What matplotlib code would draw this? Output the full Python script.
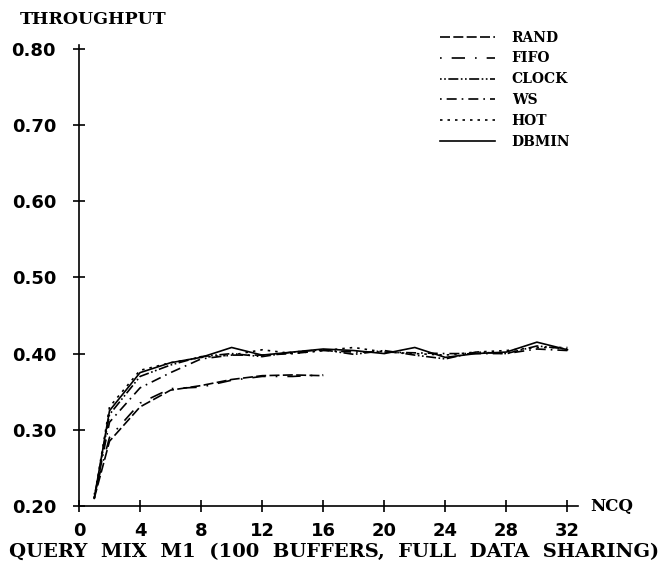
import matplotlib.pyplot as plt

# NCQ values (number of concurrent queries)
ncq = [1, 2, 4, 6, 8, 10, 12, 14, 16, 18, 20, 22, 24, 26, 28, 30, 32]
ncq_short = [1, 2, 4, 6, 8, 10, 12, 14, 16]

# Throughput
rand = [0.210, 0.285, 0.330, 0.352, 0.358, 0.366, 0.371, 0.372, 0.371]
fifo = [0.215, 0.290, 0.335, 0.354, 0.356, 0.365, 0.370, 0.370, 0.372]
clock = [0.210, 0.320, 0.370, 0.385, 0.396, 0.400, 0.396, 0.402, 0.405,
         0.399, 0.404, 0.398, 0.393, 0.402, 0.400, 0.410, 0.406]
ws = [0.210, 0.310, 0.355, 0.375, 0.393, 0.398, 0.398, 0.400, 0.404,
      0.402, 0.402, 0.401, 0.400, 0.400, 0.400, 0.406, 0.404]
hot = [0.210, 0.330, 0.378, 0.388, 0.395, 0.398, 0.405, 0.400, 0.404,
       0.408, 0.402, 0.400, 0.398, 0.402, 0.404, 0.408, 0.408]
dbmin = [0.210, 0.325, 0.375, 0.388, 0.395, 0.408, 0.398, 0.402, 0.406,
         0.404, 0.400, 0.408, 0.395, 0.400, 0.402, 0.415, 0.405]

xticks = [0, 4, 8, 12, 16, 20, 24, 28, 32]
yticks = [0.20, 0.30, 0.40, 0.50, 0.60, 0.70, 0.80]

serif = 'DejaVu Serif'
sans = 'DejaVu Sans'

fig = plt.figure(figsize=(6.62, 5.68), dpi=100)
ax = fig.add_axes([0.1193, 0.1092, 0.754, 0.8116])

lw = 1.2
ax.plot(ncq_short, rand, color='black', lw=lw, linestyle=(0, (6, 2)), label='RAND')
ax.plot(ncq_short, fifo, color='black', lw=lw, linestyle=(0, (1, 6, 8, 6)), label='FIFO')
ax.plot(ncq, clock, color='black', lw=lw, linestyle=(0, (1, 1.5, 1, 1.5, 6, 1.5)), label='CLOCK')
ax.plot(ncq, ws, color='black', lw=lw, linestyle=(0, (1, 3, 6, 3)), label='WS')
ax.plot(ncq, hot, color='black', lw=lw, linestyle=(0, (1.5, 3)), label='HOT')
ax.plot(ncq, dbmin, color='black', lw=lw, linestyle='-', label='DBMIN')

ax.set_xlim(0, 32.7)
ax.set_ylim(0.20, 0.805)
ax.spines['top'].set_visible(False)
ax.spines['right'].set_visible(False)
ax.spines['left'].set_linewidth(1.2)
ax.spines['bottom'].set_linewidth(1.2)

ax.set_xticks(xticks)
ax.set_xticklabels([str(t) for t in xticks], fontfamily=sans, fontweight='bold', fontsize=13)
ax.set_yticks(yticks)
ax.set_yticklabels([f'{t:.2f}' for t in yticks], fontfamily=sans, fontweight='bold', fontsize=13)
ax.tick_params(direction='inout', length=9, width=1.2, color='black')
ax.tick_params(axis='x', pad=7)
ax.tick_params(axis='y', pad=12)

fig.text(20 / 662, 1 - 20 / 568, 'THROUGHPUT', fontfamily=serif, fontweight='bold',
         fontsize=12.5, ha='left', va='center')
fig.text(590 / 662, 1 - 506 / 568, 'NCQ', fontfamily=serif, fontweight='bold',
         fontsize=12, ha='left', va='center')
fig.text(334 / 662, 1 - 552 / 568, 'QUERY  MIX  M1  (100  BUFFERS,  FULL  DATA  SHARING)',
         fontfamily=serif, fontweight='bold', fontsize=14, ha='center', va='center')

leg = ax.legend(loc='upper left', bbox_to_anchor=(427 / 662, 1 - 18 / 568),
                bbox_transform=fig.transFigure, frameon=False,
                handlelength=4.0, handletextpad=1.2, labelspacing=0.5,
                prop={'family': serif, 'weight': 'bold', 'size': 10})

plt.savefig('out.png', dpi=100)
